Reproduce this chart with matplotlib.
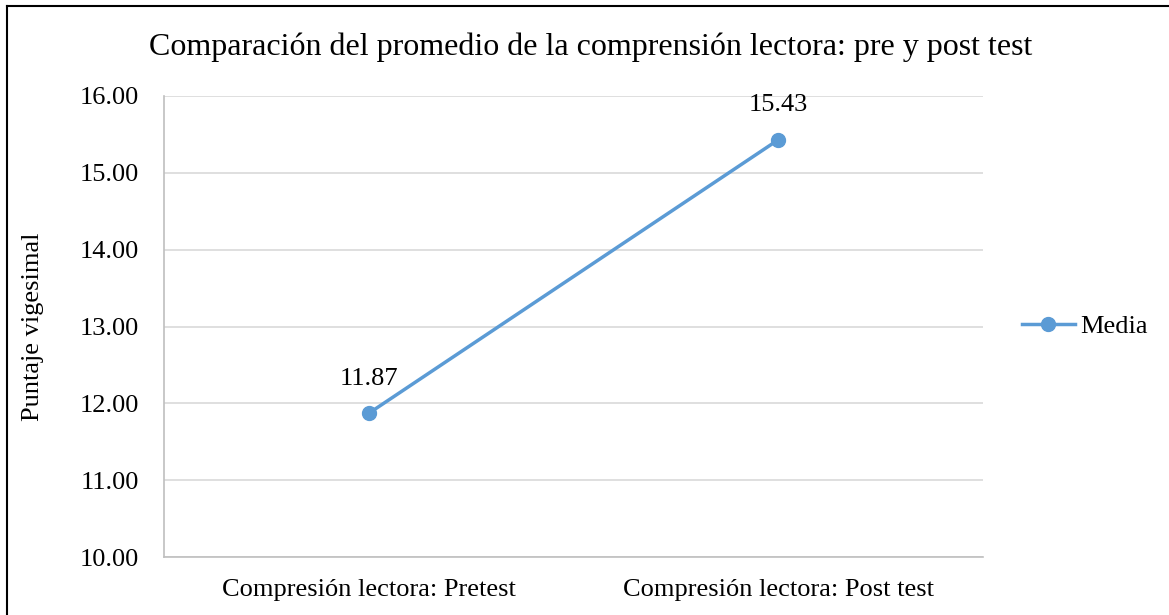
import matplotlib.pyplot as plt
from matplotlib.lines import Line2D

categories = ["Compresión lectora: Pretest", "Compresión lectora: Post test"]
media = [11.87, 15.43]
yticks = [10, 11, 12, 13, 14, 15, 16]

plt.rcParams['font.family'] = ['Liberation Serif', 'DejaVu Serif']

W, H = 1169, 615
fig = plt.figure(figsize=(W / 100, H / 100), dpi=100)
ax = fig.add_axes([164 / W, 1 - 557 / H, (983 - 164) / W, (557 - 96) / H])

color = '#5B9BD5'
x = list(range(len(categories)))
ax.plot(x, media, color=color, lw=2.5, marker='o', ms=10, label='Media', zorder=3)
for xi, v in zip(x, media):
    ax.annotate(f"{v:.2f}", (xi, v), xytext=(0, 17), textcoords='offset points',
                ha='center', va='bottom', fontsize=19)

ax.set_xlim(-0.5, 1.5)
ax.set_ylim(10, 16)
ax.set_yticks(yticks)
ax.set_yticklabels([f"{t:.2f}" for t in yticks], fontsize=19)
ax.set_xticks(x)
ax.set_xticklabels(categories, fontsize=19)
ax.tick_params(axis='y', length=0, pad=18)
ax.tick_params(axis='x', length=0, pad=16)
ax.grid(axis='y', color='#d9d9d9', lw=1.2)
ax.set_axisbelow(True)
for s in ['top', 'right']:
    ax.spines[s].set_visible(False)
for s in ['left', 'bottom']:
    ax.spines[s].set_color('#bfbfbf')
    ax.spines[s].set_linewidth(1.2)
ax.set_ylabel("Puntaje vigesimal", fontsize=19)
ax.yaxis.set_label_coords((44 - 164) / (983 - 164), 0.5)

fig.text(591 / W, 1 - 47 / H, "Comparación del promedio de la comprensión lectora: pre y post test",
         ha='center', va='center', fontsize=23)

ax.legend(loc='center left', bbox_to_anchor=((1022 - 164) / (983 - 164), 0.5), frameon=False,
          fontsize=19, handlelength=2.0, handletextpad=0.2, borderaxespad=0, borderpad=0)

fig.add_artist(Line2D([7 / W, 7 / W], [0, 1 - 6 / H], color='black', lw=1.5, transform=fig.transFigure))
fig.add_artist(Line2D([7 / W, 1], [1 - 6 / H, 1 - 6 / H], color='black', lw=1.5, transform=fig.transFigure))

fig.savefig('out.png', dpi=100)
